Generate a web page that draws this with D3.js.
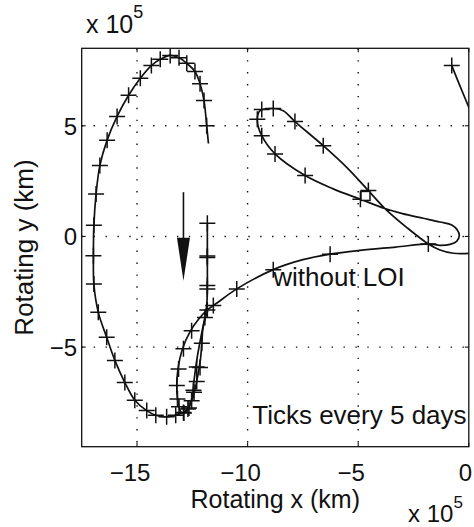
<!DOCTYPE html>
<html><head><meta charset="utf-8">
<script src="https://cdn.jsdelivr.net/npm/d3@7"></script>
<style>
body{margin:0;background:#fff}
svg{display:block}
text{font-family:"Liberation Sans",Arial,Helvetica,sans-serif;fill:#111}
</style>
</head><body>
<svg id="c" width="474" height="527"></svg>
<script>
// ---------- data (units of 10^5 km) ----------
const xTicks = [-15, -10, -5, 0];
const yTicks = [-5, 0, 5];
const xDomain = [-17.5, 0];
const yDomain = [-9.5, 8.5];

const leftLoop = [[-11.77,4.2],[-11.85,5.0],[-11.97,6.14],[-12.15,6.9],[-12.38,7.45],[-12.75,7.82],[-13.1,8.07],[-13.5,8.18],[-13.95,8.0],[-14.35,7.72],[-14.85,7.15],[-15.38,6.38],[-15.9,5.42],[-16.35,4.35],[-16.68,3.2],[-16.85,1.92],[-16.95,0.5],[-16.97,-0.87],[-16.95,-2.15],[-16.75,-3.43],[-16.37,-4.56],[-16.0,-5.6],[-15.55,-6.6],[-15.1,-7.4],[-14.56,-7.87],[-14.15,-8.08],[-13.66,-8.15],[-13.25,-8.08],[-12.9,-7.95],[-12.65,-7.7],[-12.5,-7.2],[-12.42,-6.5],[-12.3,-5.6],[-12.12,-4.6],[-11.95,-3.8],[-11.8,-3.35]];
const leftLoopTicks = [[-11.85,5.0],[-11.97,6.14],[-12.15,6.9],[-12.38,7.45],[-12.75,7.82],[-13.1,8.07],[-13.5,8.18],[-13.95,8.0],[-14.35,7.72],[-14.85,7.15],[-15.38,6.38],[-15.9,5.42],[-16.35,4.35],[-16.68,3.2],[-16.85,1.92],[-16.95,0.5],[-16.97,-0.87],[-16.95,-2.15],[-16.75,-3.43],[-16.37,-4.56],[-16.0,-5.6],[-15.55,-6.6],[-15.1,-7.4],[-14.56,-7.87],[-14.15,-8.08],[-13.66,-8.15],[-13.25,-8.08],[-12.9,-7.95],[-12.65,-7.75],[-12.45,-6.95],[-12.3,-5.9]];

const mainPath = [[-11.82,0.59],[-11.82,-0.91],[-11.82,-2.22],[-11.84,-3.0],[-11.93,-3.66],[-12.03,-4.25],[-12.07,-4.83],[-12.12,-5.45],[-12.2,-6.0],[-12.3,-6.55],[-12.4,-7.0],[-12.53,-7.42],[-12.68,-7.78],[-12.88,-7.98],[-13.02,-7.92],[-13.12,-7.65],[-13.17,-7.34],[-13.2,-6.8],[-13.15,-6.0],[-12.95,-5.1],[-12.6,-4.3],[-12.2,-3.72],[-11.82,-3.32],[-11.4,-3.02],[-10.49,-2.37],[-8.84,-1.5],[-7.5,-1.05],[-6.27,-0.8],[-4.92,-0.63],[-3.3,-0.48],[-1.83,-0.34],[-1.3,-0.4],[-0.85,-0.36],[-0.55,-0.22],[-0.43,0.04],[-0.52,0.29],[-0.77,0.52],[-1.3,0.65],[-2.06,0.82],[-3.0,1.03],[-3.79,1.26],[-4.9,1.68],[-6.13,2.15],[-7.4,2.75],[-8.76,3.73],[-9.36,4.55],[-9.56,5.23],[-9.44,5.68],[-8.84,5.78],[-8.39,5.68],[-7.86,5.19],[-6.58,4.10],[-5.52,3.12],[-4.54,2.07],[-3.79,1.26],[-2.8,0.4],[-1.83,-0.34],[-1.3,-0.61],[-0.7,-0.76],[0.3,-0.75]];
const mainTicks = [[-11.82,0.59],[-11.82,-0.88],[-11.82,-0.95],[-11.82,-2.22],[-11.82,-2.37],[-11.82,-3.32],[-11.93,-3.66],[-12.07,-4.83],[-12.15,-5.92],[-12.3,-6.55],[-12.42,-7.04],[-12.53,-7.42],[-12.7,-7.8],[-12.88,-7.98],[-13.1,-7.7],[-13.17,-7.34],[-13.2,-6.74],[-13.12,-5.99],[-12.9,-5.08],[-12.53,-4.26],[-11.55,-3.12],[-10.49,-2.37],[-8.84,-1.5],[-6.27,-0.8],[-1.83,-0.34],[-4.9,1.68],[-7.4,2.75],[-8.76,3.73],[-9.36,4.55],[-9.56,5.3],[-9.36,5.74],[-8.84,5.78],[-7.86,5.19],[-6.58,4.10],[-4.54,2.07]];

const topRight = [[-0.77,7.72],[-0.4,6.8],[0.1,5.6]];
const topRightTicks = [[-0.77,7.72]];

const squareMarkers = [[-4.67,1.83]];
const arrowPts = [[-12.9,2.0],[-12.9,-2.0]];
const notes = [
  {text:"without LOI", x:-8.84, y:-2.22},
  {text:"Ticks every 5 days", x:-9.79, y:-8.46}
];
const xLabel = "Rotating x (km)";
const yLabel = "Rotating y (km)";

// ---------- layout ----------
const L = 81.7, R = 468.8, T = 48.3, B = 446.7;
const svg = d3.select("#c");
const x = d3.scaleLinear().domain(xDomain).range([L, R]);
const y = d3.scaleLinear().domain(yDomain).range([B, T]);
const ink = "#111";

svg.append("defs").append("clipPath").attr("id","clip")
  .append("rect").attr("x",L).attr("y",T).attr("width",R-L).attr("height",B-T);

// grid
const grid = svg.append("g").attr("stroke", ink).attr("stroke-width",1.4)
  .attr("stroke-dasharray","1.4,10.5").attr("fill","none");
grid.selectAll(".gx").data(xTicks.filter(v=>v>xDomain[0]&&v<xDomain[1])).join("line")
  .attr("x1",d=>x(d)).attr("x2",d=>x(d)).attr("y1",T).attr("y2",B);
grid.selectAll(".gy").data(yTicks).join("line")
  .attr("y1",d=>y(d)).attr("y2",d=>y(d)).attr("x1",L).attr("x2",R);

// tick marks (inward, all sides)
const tk = svg.append("g").attr("stroke",ink).attr("stroke-width",1.1);
xTicks.forEach(v=>{
  tk.append("line").attr("x1",x(v)).attr("x2",x(v)).attr("y1",B).attr("y2",B-4);
  tk.append("line").attr("x1",x(v)).attr("x2",x(v)).attr("y1",T).attr("y2",T+4);
});
yTicks.forEach(v=>{
  tk.append("line").attr("y1",y(v)).attr("y2",y(v)).attr("x1",L).attr("x2",L+4);
  tk.append("line").attr("y1",y(v)).attr("y2",y(v)).attr("x1",R).attr("x2",R-4);
});

// curves
const plot = svg.append("g").attr("clip-path","url(#clip)");
const line = d3.line().x(d=>x(d[0])).y(d=>y(d[1])).curve(d3.curveCatmullRom.alpha(0.5));
[leftLoop, mainPath, topRight].forEach(p=>{
  plot.append("path").attr("d", line(p)).attr("fill","none")
    .attr("stroke",ink).attr("stroke-width",1.7).attr("stroke-linejoin","round");
});

// plus markers
const ms = 8;
const allTicks = leftLoopTicks.concat(mainTicks, topRightTicks);
plot.append("g").selectAll("path").data(allTicks).join("path")
  .attr("d", d=>`M${x(d[0])-ms},${y(d[1])}H${x(d[0])+ms}M${x(d[0])},${y(d[1])-ms}V${y(d[1])+ms}`)
  .attr("stroke",ink).attr("stroke-width",1.5).attr("fill","none");

// square marker
const sq = 9;
plot.selectAll(".sq").data(squareMarkers).join("rect")
  .attr("x",d=>x(d[0])-sq/2).attr("y",d=>y(d[1])-sq/2).attr("width",sq).attr("height",sq)
  .attr("fill","#fff").attr("stroke",ink).attr("stroke-width",1.5);

// arrow
const ax = x(arrowPts[0][0]), ay0 = y(arrowPts[0][1]), ay1 = y(arrowPts[1][1]);
const headLen = 43, headW = 13;
svg.append("line").attr("x1",ax).attr("x2",ax).attr("y1",ay0).attr("y2",ay1-headLen+2)
  .attr("stroke",ink).attr("stroke-width",1.6);
svg.append("path").attr("d",`M${ax-headW/2},${ay1-headLen}L${ax+headW/2},${ay1-headLen}L${ax},${ay1}Z`)
  .attr("fill",ink);

// notes
svg.selectAll(".note").data(notes).join("text")
  .attr("x",d=>x(d.x)).attr("y",d=>y(d.y)).attr("font-size",26).text(d=>d.text);

// frame
svg.append("rect").attr("x",L).attr("y",T).attr("width",R-L).attr("height",B-T)
  .attr("fill","none").attr("stroke",ink).attr("stroke-width",1.3);

// tick labels
const fs = 24;
svg.selectAll(".xl").data(xTicks).join("text")
  .attr("x",d=>Math.min(472, x(d) + String(Math.abs(d)).length*0.556*fs/2))
  .attr("y",481).attr("text-anchor","end").attr("font-size",fs)
  .text(d=>d<0 ? "\u2212"+Math.abs(d) : String(d));
svg.selectAll(".yl").data(yTicks).join("text")
  .attr("x",77).attr("y",d=>y(d)+9).attr("text-anchor","end").attr("font-size",fs)
  .text(d=>d<0 ? "\u2212"+Math.abs(d) : String(d));

// axis labels
svg.append("text").attr("x",(L+R)/2).attr("y",508).attr("text-anchor","middle")
  .attr("font-size",25).text(xLabel);
svg.append("text").attr("transform",`translate(33,${(T+B)/2}) rotate(-90)`)
  .attr("text-anchor","middle").attr("font-size",26).text(yLabel);

// exponent labels
const e1 = svg.append("text").attr("x",86).attr("y",33).attr("font-size",25);
e1.append("tspan").text("x 10");
e1.append("tspan").attr("font-size",18).attr("dy",-15).text("5");
const e2 = svg.append("text").attr("x",408).attr("y",522).attr("font-size",24);
e2.append("tspan").text("x 10");
e2.append("tspan").attr("font-size",17).attr("dy",-14).text("5");
</script>
</body></html>
